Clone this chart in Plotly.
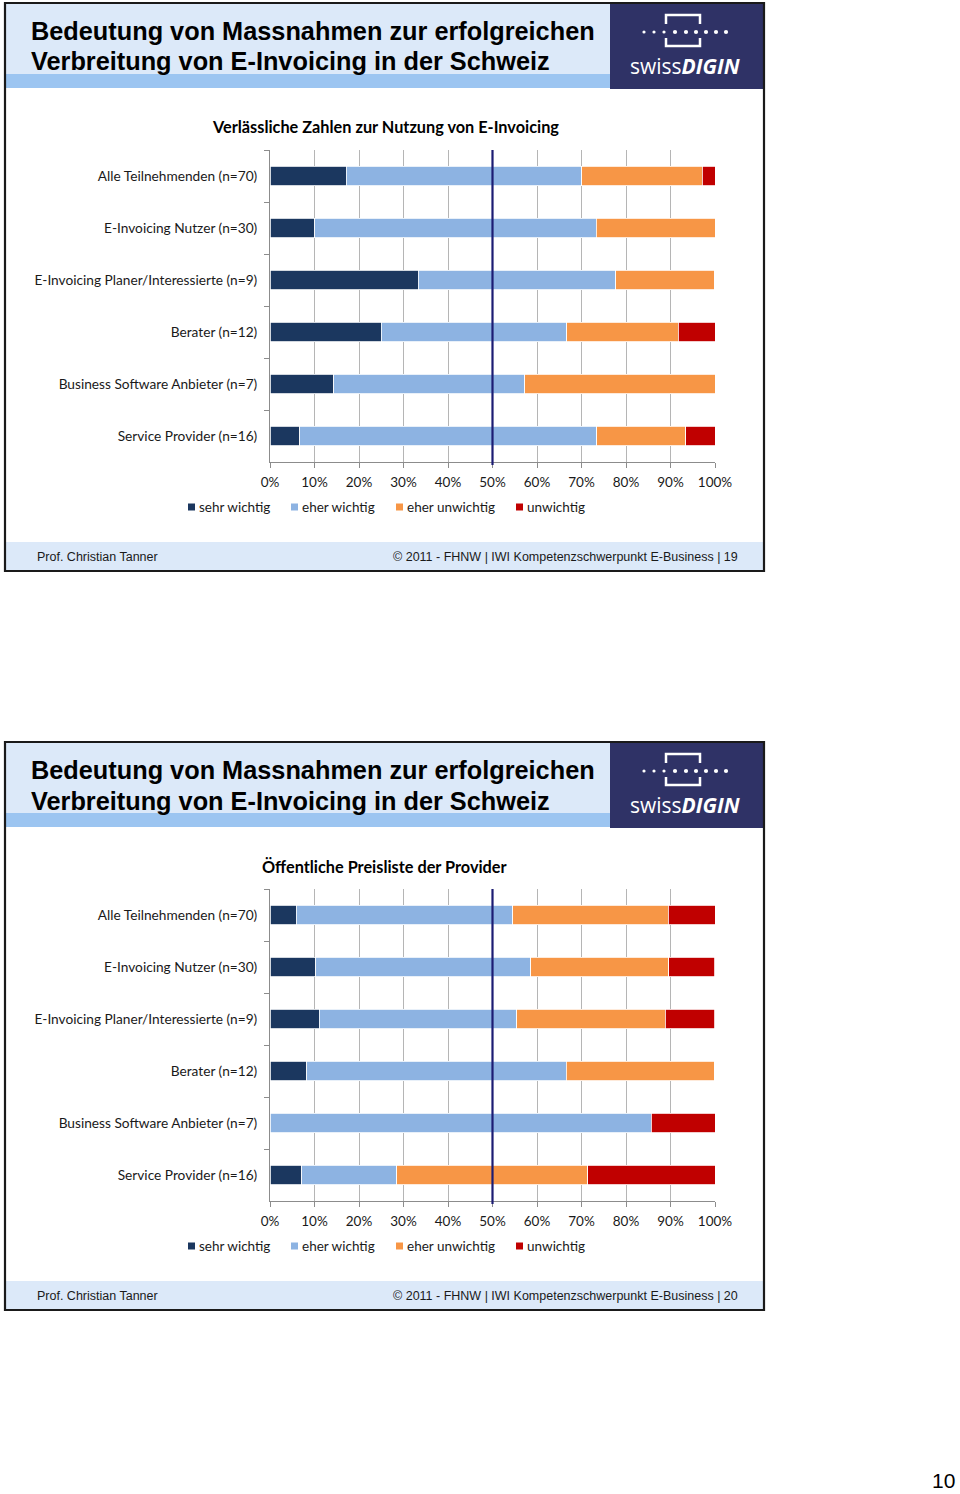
import plotly.graph_objects as go

W, H = 960, 1494

categories = [
    "Alle Teilnehmenden (n=70)",
    "E-Invoicing Nutzer (n=30)",
    "E-Invoicing Planer/Interessierte (n=9)",
    "Berater (n=12)",
    "Business Software Anbieter (n=7)",
    "Service Provider (n=16)",
]
series_names = ["sehr wichtig", "eher wichtig", "eher unwichtig", "unwichtig"]
series_colors = ["#1b375f", "#8db3e2", "#f79646", "#c00000"]

chart1_title = "Verlässliche Zahlen zur Nutzung von E-Invoicing"
chart1_sehr = [17.1, 10.0, 33.3, 25.0, 14.3, 6.7]
chart1_eher = [52.9, 63.3, 44.4, 41.7, 42.9, 66.7]
chart1_eher_un = [27.1, 26.7, 22.2, 25.0, 42.9, 20.0]
chart1_un = [2.9, 0.0, 0.0, 8.3, 0.0, 6.7]

chart2_title = "Öffentliche Preisliste der Provider"
chart2_sehr = [5.9, 10.3, 11.1, 8.3, 0.0, 7.1]
chart2_eher = [48.7, 48.3, 44.4, 58.3, 85.7, 21.4]
chart2_eher_un = [34.9, 31.0, 33.3, 33.3, 0.0, 42.9]
chart2_un = [10.5, 10.3, 11.1, 0.0, 14.3, 28.6]

x_ticks = [0, 10, 20, 30, 40, 50, 60, 70, 80, 90, 100]
x_tick_labels = ["0%", "10%", "20%", "30%", "40%", "50%", "60%", "70%", "80%", "90%", "100%"]

slide_title_1 = "Bedeutung von Massnahmen zur erfolgreichen"
slide_title_2 = "Verbreitung von E-Invoicing in der Schweiz"
footer_left = "Prof. Christian Tanner"
footer_right_base = "© 2011 - FHNW | IWI Kompetenzschwerpunkt E-Business | "
slide_numbers = [19, 20]
page_number = "10"

charts = [
    (chart1_title, [chart1_sehr, chart1_eher, chart1_eher_un, chart1_un]),
    (chart2_title, [chart2_sehr, chart2_eher, chart2_eher_un, chart2_un]),
]

SLIDE_OFFSET = 739
CAT_FONT = "Lato, 'Open Sans', sans-serif"
HEAD_FONT = "'Liberation Sans', Arial, sans-serif"


def px(x):
    return x / W


def py(y):
    return 1 - y / H


fig = go.Figure()
shapes = []
annotations = []

for i, (ctitle, vals) in enumerate(charts):
    off = i * SLIDE_OFFSET
    xa = "x" if i == 0 else "x2"
    ya = "y" if i == 0 else "y2"
    for name, color, v in zip(series_names, series_colors, vals):
        fig.add_trace(go.Bar(
            y=categories, x=v, name=name, orientation="h",
            marker=dict(color=color, line=dict(color="white", width=0.8)),
            xaxis=xa, yaxis=ya, showlegend=False,
        ))

    axis_common = dict(
        domain=[px(270), px(715)], range=[0, 100], tickvals=x_ticks, ticktext=x_tick_labels,
        showgrid=True, gridcolor="#b5b5b5", gridwidth=1,
        showline=True, linecolor="#8c8c8c", linewidth=1,
        ticks="outside", ticklen=5, tickcolor="#8c8c8c",
        tickfont=dict(family=CAT_FONT, size=13.5, color="#1a1a1a"),
        zeroline=False, fixedrange=True, ticklabelstandoff=3, automargin=False,
    )
    yaxis_common = dict(
        domain=[py(462 + off), py(150 + off)], type="category",
        categoryorder="array", categoryarray=categories, autorange="reversed",
        tickson="boundaries", ticks="outside", ticklen=5, tickcolor="#8c8c8c",
        showline=True, linecolor="#8c8c8c", linewidth=1, showgrid=False,
        tickfont=dict(family=CAT_FONT, size=13.7, color="#1a1a1a"),
        ticklabelstandoff=9, fixedrange=True, automargin=False,
    )
    if i == 0:
        fig.update_layout(xaxis=dict(anchor="y", **axis_common),
                          yaxis=dict(anchor="x", **yaxis_common))
    else:
        fig.update_layout(xaxis2=dict(anchor="y2", **axis_common),
                          yaxis2=dict(anchor="x2", **yaxis_common))

    # slide decorations
    shapes += [
        dict(type="rect", xref="paper", yref="paper", x0=px(6), x1=px(763),
             y0=py(4 + off), y1=py(74 + off), fillcolor="#dce9f9", line_width=0, layer="below"),
        dict(type="rect", xref="paper", yref="paper", x0=px(6), x1=px(610),
             y0=py(74 + off), y1=py(88 + off), fillcolor="#9cc5f1", line_width=0, layer="below"),
        dict(type="rect", xref="paper", yref="paper", x0=px(610), x1=px(763),
             y0=py(4 + off), y1=py(89 + off), fillcolor="#2f3266", line_width=0, layer="below"),
        dict(type="rect", xref="paper", yref="paper", x0=px(6), x1=px(763),
             y0=py(542 + off), y1=py(570 + off), fillcolor="#dce9f9", line_width=0, layer="below"),
        dict(type="rect", xref="paper", yref="paper", x0=px(5), x1=px(764),
             y0=py(3 + off), y1=py(571 + off), line=dict(color="#1a1a1a", width=2.2),
             fillcolor="rgba(0,0,0,0)", layer="below"),
        # logo brackets
        dict(type="path", xref="paper", yref="paper",
             path=f"M {px(666)},{py(24+off)} L {px(666)},{py(15+off)} L {px(700)},{py(15+off)} L {px(700)},{py(24+off)}",
             line=dict(color="white", width=2.5)),
        dict(type="path", xref="paper", yref="paper",
             path=f"M {px(666)},{py(38+off)} L {px(666)},{py(46+off)} L {px(700)},{py(46+off)} L {px(700)},{py(38+off)}",
             line=dict(color="white", width=2.5)),
        # 50% reference line
        dict(type="line", xref=xa, yref="paper", x0=50, x1=50,
             y0=py(465 + off), y1=py(150 + off), line=dict(color="#1c1c73", width=2.2),
             layer="above"),
    ]
    for k, dx in enumerate([644, 654, 664, 675, 686, 696, 706, 716, 726]):
        r = 1.6 if k < 3 else 2.1
        shapes.append(dict(type="circle", xref="paper", yref="paper",
                           x0=px(dx - r), x1=px(dx + r), y0=py(32 + off + r), y1=py(32 + off - r),
                           fillcolor="white", line_width=0))

    annotations += [
        dict(text=f"<b>{slide_title_1}</b>", x=px(29), y=py(31 + off), xref="paper", yref="paper",
             xanchor="left", yanchor="middle", showarrow=False,
             font=dict(family=HEAD_FONT, size=25.3, color="#000000")),
        dict(text=f"<b>{slide_title_2}</b>", x=px(29), y=py(61.5 + off), xref="paper", yref="paper",
             xanchor="left", yanchor="middle", showarrow=False,
             font=dict(family=HEAD_FONT, size=25.3, color="#000000")),
        dict(text="swiss<b><i>DIGIN</i></b>", x=px(685), y=py(66 + off), xref="paper", yref="paper",
             xanchor="center", yanchor="middle", showarrow=False,
             font=dict(family="'Open Sans', sans-serif", size=21, color="white")),
        dict(text=f"<b>{ctitle}</b>", x=px(385), y=py(127 + off), xref="paper", yref="paper",
             xanchor="center", yanchor="middle", showarrow=False,
             font=dict(family=CAT_FONT, size=16.3, color="#000000")),
        dict(text=footer_left, x=px(35), y=py(557 + off), xref="paper", yref="paper",
             xanchor="left", yanchor="middle", showarrow=False,
             font=dict(family=HEAD_FONT, size=12.5, color="#1a1a1a")),
        dict(text=f"{footer_right_base}{slide_numbers[i]}", x=px(740), y=py(557 + off),
             xref="paper", yref="paper", xanchor="right", yanchor="middle", showarrow=False,
             font=dict(family=HEAD_FONT, size=12.5, color="#1a1a1a")),
    ]
    # custom legend
    leg_x = [188, 291, 396, 516]
    for name, color, lx in zip(series_names, series_colors, leg_x):
        shapes.append(dict(type="rect", xref="paper", yref="paper",
                           x0=px(lx), x1=px(lx + 7), y0=py(510.5 + off), y1=py(503.5 + off),
                           fillcolor=color, line_width=0))
        annotations.append(dict(text=name, x=px(lx + 9), y=py(507 + off), xref="paper", yref="paper",
                                xanchor="left", yanchor="middle", showarrow=False,
                                font=dict(family=CAT_FONT, size=13.5, color="#1a1a1a")))

annotations.append(dict(text=page_number, x=px(943), y=py(1480), xref="paper", yref="paper",
                        xanchor="center", yanchor="middle", showarrow=False,
                        font=dict(family=HEAD_FONT, size=21, color="#000000")))

fig.update_layout(
    width=W, height=H, margin=dict(l=0, r=0, t=0, b=0, autoexpand=False), autosize=False,
    paper_bgcolor="white", plot_bgcolor="white",
    barmode="stack", bargap=0.625, showlegend=False,
    shapes=shapes, annotations=annotations,
)

fig.write_html("out.html")
